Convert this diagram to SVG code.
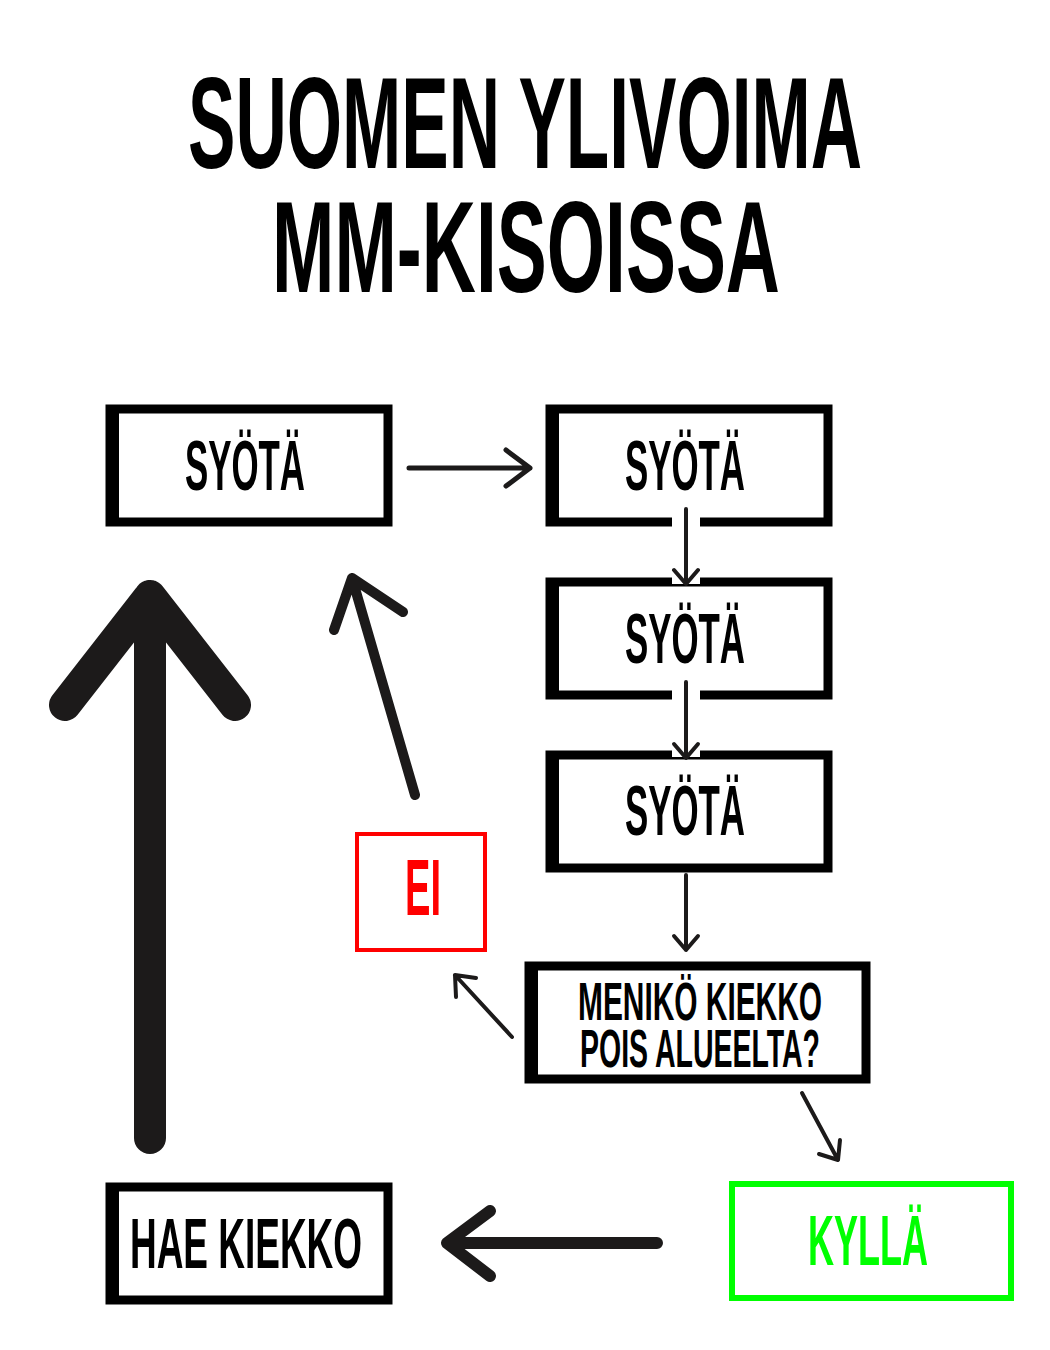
<svg xmlns="http://www.w3.org/2000/svg" width="1050" height="1350" viewBox="0 0 1050 1350">
<style>
.t{font-family:"Liberation Sans",Arial,sans-serif;font-weight:bold;text-anchor:middle}
.b{fill:#fff;stroke:#000;stroke-width:9}
.a{fill:none;stroke:#1c1a1a;stroke-linecap:round;stroke-linejoin:round}
</style>
<rect width="1050" height="1350" fill="#fff"/>
<text class="t" x="525" y="168" font-size="130" textLength="674" lengthAdjust="spacingAndGlyphs">SUOMEN YLIVOIMA</text>
<text class="t" x="526" y="292" font-size="130" textLength="508" lengthAdjust="spacingAndGlyphs">MM-KISOISSA</text>
<g id="n1"><rect class="b" x="110" y="409" width="278" height="113"/><rect x="106" y="405" width="13" height="121"/><text class="t" x="245" y="490" font-size="70" textLength="120" lengthAdjust="spacingAndGlyphs">SYÖTÄ</text></g>
<g id="n2"><rect class="b" x="550" y="409" width="278" height="113"/><rect x="546" y="405" width="13" height="121"/><text class="t" x="685" y="490" font-size="70" textLength="120" lengthAdjust="spacingAndGlyphs">SYÖTÄ</text></g>
<g id="n3"><rect class="b" x="550" y="582" width="278" height="113"/><rect x="546" y="578" width="13" height="121"/><text class="t" x="685" y="663" font-size="70" textLength="120" lengthAdjust="spacingAndGlyphs">SYÖTÄ</text></g>
<g id="n4"><rect class="b" x="550" y="755" width="278" height="113"/><rect x="546" y="751" width="13" height="121"/><text class="t" x="685" y="835" font-size="70" textLength="120" lengthAdjust="spacingAndGlyphs">SYÖTÄ</text></g>
<g id="n5"><rect class="b" x="529" y="966" width="337" height="113"/><rect x="525" y="962" width="13" height="121"/><text class="t" x="700" y="1020" font-size="54" textLength="244" lengthAdjust="spacingAndGlyphs">MENIKÖ KIEKKO</text><text class="t" x="700" y="1067" font-size="54" textLength="240" lengthAdjust="spacingAndGlyphs">POIS ALUEELTA?</text></g>
<g id="n6"><rect x="357" y="834" width="128" height="116" fill="#fff" stroke="#f00" stroke-width="4"/><text class="t" x="423" y="915" font-size="80" fill="#f00" textLength="36" lengthAdjust="spacingAndGlyphs">EI</text></g>
<g id="n7"><rect x="732" y="1184" width="279" height="114" fill="#fff" stroke="#00ff00" stroke-width="6"/><text class="t" x="868" y="1265" font-size="70" fill="#00ff00" textLength="120" lengthAdjust="spacingAndGlyphs">KYLLÄ</text></g>
<g id="n8"><rect class="b" x="110" y="1187" width="278" height="113"/><rect x="106" y="1183" width="13" height="121"/><text class="t" x="246" y="1268" font-size="70" textLength="232" lengthAdjust="spacingAndGlyphs">HAE KIEKKO</text></g>
<g id="connectors">
<rect x="672" y="512" width="28" height="16" fill="#fff"/><rect x="672" y="574" width="28" height="10" fill="#fff"/>
<rect x="672" y="685" width="28" height="16" fill="#fff"/><rect x="672" y="747" width="28" height="10" fill="#fff"/>
<path class="a" stroke-width="5" d="M409 468H530M506 450L530 468L506 486"/>
<path class="a" stroke-width="4" d="M686 509V583M674 570L686 584L698 570"/>
<path class="a" stroke-width="4" d="M686 682V757M674 744L686 758L698 744"/>
<path class="a" stroke-width="4" d="M686 875V950M674 936L686 950L698 936"/>
<path class="a" stroke-width="4" d="M512 1037L455 975M456 997L455 975L476 978"/>
<path class="a" stroke-width="4" d="M802 1093L838 1160M819 1154L838 1160L840 1140"/>
<path class="a" stroke-width="12" d="M657 1243H447M490 1211L447 1243L490 1276"/>
<path class="a" stroke-width="10" d="M415 795L352 578M334 630L352 578L403 612"/>
<path class="a" stroke-width="32" d="M150 1138V596M65 705L150 596L235 705"/>
</g>
</svg>
